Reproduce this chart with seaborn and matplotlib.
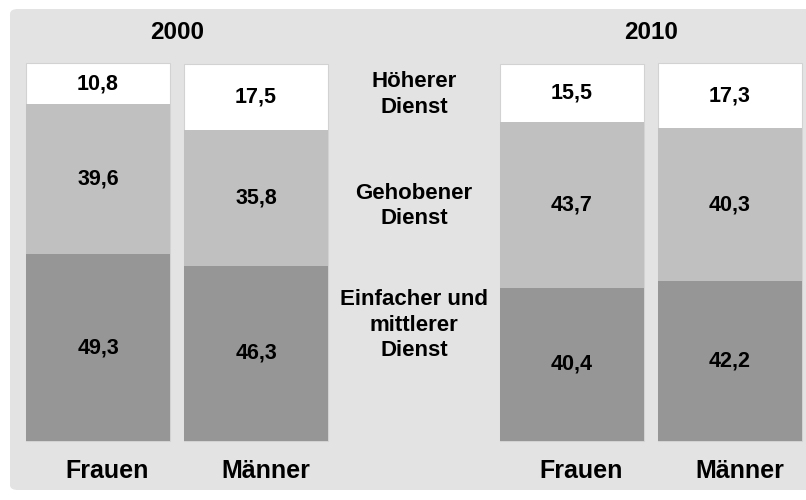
import numpy as np
import pandas as pd
import seaborn as sns
import matplotlib.pyplot as plt
from matplotlib.patches import FancyBboxPatch

# data (percent)
groups = ["Frauen", "Männer", "Frauen", "Männer"]
years = ["2000", "2000", "2010", "2010"]
positions = [0, 1, 3, 4]
einfach = [49.3, 46.3, 40.4, 42.2]
gehoben = [39.6, 35.8, 43.7, 40.3]
hoeher = [10.8, 17.5, 15.5, 17.3]
cat_labels = ["Höherer\nDienst", "Gehobener\nDienst", "Einfacher und\nmittlerer\nDienst"]

df = pd.DataFrame({"pos": positions, "einfach": einfach, "gehoben": gehoben, "hoeher": hoeher})
df["lvl2"] = df["einfach"] + df["gehoben"]
df["lvl3"] = df["lvl2"] + df["hoeher"]

sns.set_style("white")
plt.rcParams["font.family"] = ["Liberation Sans", "DejaVu Sans"]
plt.rcParams["font.weight"] = "bold"
plt.rcParams["text.color"] = "black"

fig = plt.figure(figsize=(8.06, 5.0), dpi=100)
fig.patch.set_facecolor("white")
panel = FancyBboxPatch((10 / 806, 0.02), 1.2, 0.962, boxstyle="round,pad=0,rounding_size=0.01",
                       transform=fig.transFigure, facecolor="#e3e3e3", edgecolor="none", zorder=-10)
fig.patches.append(panel)

ax = fig.add_axes([0, 0, 1, 1])
ax.set_facecolor("none")
ax.set_zorder(5)

w = 0.91
sns.barplot(data=df, x="pos", y="lvl3", native_scale=True, width=w, color="white",
            saturation=1, edgecolor="#d2d2d2", linewidth=0.8, ax=ax)
sns.barplot(data=df, x="pos", y="lvl2", native_scale=True, width=w, color="#c0c0c0",
            saturation=1, linewidth=0, ax=ax)
sns.barplot(data=df, x="pos", y="einfach", native_scale=True, width=w, color="#969696",
            saturation=1, linewidth=0, ax=ax)

def fmt(v):
    return f"{v:.1f}".replace(".", ",")

fs = 15.5
for _, r in df.iterrows():
    p = r["pos"]
    ax.text(p, r["einfach"] / 2, fmt(r["einfach"]), ha="center", va="center", fontsize=fs, fontweight="bold")
    ax.text(p, r["einfach"] + r["gehoben"] / 2, fmt(r["gehoben"]), ha="center", va="center", fontsize=fs, fontweight="bold")
    ax.text(p, r["lvl2"] + r["hoeher"] / 2, fmt(r["hoeher"]), ha="center", va="center", fontsize=fs, fontweight="bold")

for p, g in zip(positions, groups):
    ax.text(p + 0.06, -8.0, g, ha="center", va="center", fontsize=18, fontweight="bold")

ax.text(0.5, 107.7, "2000", ha="center", va="center", fontsize=17.5, fontweight="bold")
ax.text(3.5, 107.7, "2010", ha="center", va="center", fontsize=17.5, fontweight="bold")

for yv, lab in zip([91.5, 62.0, 30.6], cat_labels):
    ax.text(2.0, yv, lab, ha="center", va="center", fontsize=16, fontweight="bold", linespacing=1.3)

u = 158.0
ax.set_xlim(-98 / u, (806 - 98) / u)
ax.set_ylim((441 - 500) / 379 * 100, 441 / 379 * 100)
ax.axis("off")

fig.savefig("out.png", dpi=100)
